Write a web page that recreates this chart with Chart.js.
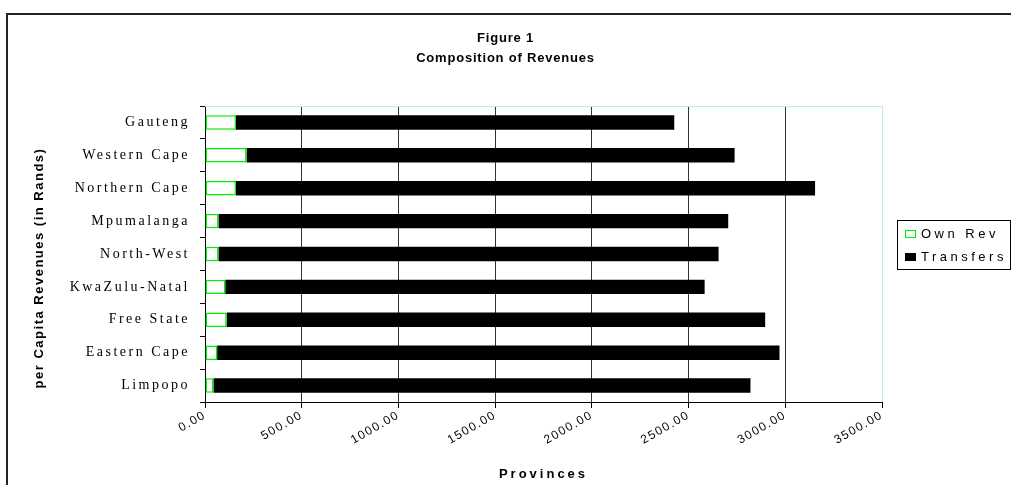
<!DOCTYPE html>
<html><head><meta charset="utf-8">
<script src="https://cdn.jsdelivr.net/npm/chart.js@4.4.1/dist/chart.umd.min.js"></script>
<style>html,body{margin:0;padding:0;background:#fff}#wrap{width:1011px;height:485px}</style>
</head><body><div id="wrap"><canvas id="c" width="1011" height="485"></canvas></div>
<script>
// ---- data ----
const provinces = ['Gauteng','Western Cape','Northern Cape','Mpumalanga','North-West','KwaZulu-Natal','Free State','Eastern Cape','Limpopo'];
const ownRev = [160, 215, 160, 70, 70, 105, 112, 63, 44];
const transfers = [2266, 2523, 2994, 2635, 2585, 2478, 2784, 2907, 2776];
const xTickValues = [0, 500, 1000, 1500, 2000, 2500, 3000, 3500];
const seriesNames = ['Own Rev', 'Transfers'];
const titleLines = ['Figure 1', 'Composition of Revenues'];
const xAxisTitle = 'Provinces';
const yAxisTitle = 'per Capita Revenues (in Rands)';

const SANS = "'Liberation Sans', Arial, sans-serif";
const SERIF = "'Liberation Serif', 'Times New Roman', serif";

function spaced(obj, method, spacing, dx, dy) {
  if (!obj || obj['__sp_' + method]) return;
  const orig = obj[method];
  obj[method] = function (...args) {
    const ctx = this.ctx;
    ctx.save();
    ctx.letterSpacing = spacing;
    if (dx || dy) ctx.translate(dx || 0, dy || 0);
    const r = orig.apply(this, args);
    ctx.restore();
    return r;
  };
  obj['__sp_' + method] = true;
}

const decor = {
  id: 'decor',
  beforeDraw(chart) {
    const ctx = chart.ctx;
    ctx.save();
    ctx.fillStyle = '#fff';
    ctx.fillRect(0, 0, chart.width, chart.height);
    ctx.restore();
    // title centred over the full canvas width
    const tb = chart.titleBlock;
    if (tb) { tb.left = 0; tb.right = chart.width; tb.width = chart.width; }
    spaced(tb, 'draw', '0.8px');
    spaced(chart.scales.x, 'drawTitle', '3px');
    spaced(chart.scales.x, 'drawLabels', '1.5px');
    spaced(chart.scales.y, 'drawLabels', '2.5px');
    spaced(chart.scales.y, 'drawTitle', '1.5px', 0, 14);
  },
  afterDraw(chart) {
    const ctx = chart.ctx;
    const a = chart.chartArea;
    ctx.save();
    // outer frame
    ctx.strokeStyle = '#222';
    ctx.lineWidth = 2;
    ctx.beginPath();
    ctx.moveTo(7, chart.height);
    ctx.lineTo(7, 14);
    ctx.lineTo(chart.width, 14);
    ctx.stroke();
    // plot area top/right border
    ctx.strokeStyle = '#b4eeee';
    ctx.lineWidth = 1;
    ctx.beginPath();
    ctx.moveTo(a.left, a.top + 0.5);
    ctx.lineTo(a.right + 0.5, a.top + 0.5);
    ctx.lineTo(a.right + 0.5, a.bottom);
    ctx.stroke();
    // legend
    const lx = 897, ly = 220, lw = 113, lh = 49;
    ctx.strokeStyle = '#000';
    ctx.lineWidth = 1;
    ctx.strokeRect(lx + 0.5, ly + 0.5, lw, lh);
    ctx.font = '13px ' + SANS;
    ctx.letterSpacing = '3.5px';
    ctx.textBaseline = 'middle';
    ctx.textAlign = 'left';
    chart.data.datasets.forEach((ds, i) => {
      const cy = ly + 14 + i * 23;
      ctx.fillStyle = ds.backgroundColor;
      ctx.fillRect(905, cy - 4, 11, 8);
      ctx.strokeStyle = ds.borderColor;
      ctx.strokeRect(905.5, cy - 3.5, 10, 7);
      ctx.fillStyle = '#000';
      ctx.fillText(ds.label, 921, cy);
    });
    ctx.restore();
  }
};

new Chart(document.getElementById('c'), {
  type: 'bar',
  data: {
    labels: provinces,
    datasets: [
      { label: seriesNames[0], data: ownRev, backgroundColor: '#ffffff', borderColor: '#00ee00', borderWidth: 1.5, borderSkipped: false },
      { label: seriesNames[1], data: transfers, backgroundColor: '#000000', borderColor: '#000000', borderWidth: 0 }
    ]
  },
  options: {
    indexAxis: 'y',
    responsive: false,
    animation: false,
    devicePixelRatio: 1,
    categoryPercentage: 1,
    barPercentage: 0.44,
    layout: { padding: { left: 0, right: 129, top: 0, bottom: 0 } },
    plugins: {
      legend: { display: false },
      tooltip: { enabled: false },
      title: {
        display: true,
        text: titleLines,
        color: '#000',
        font: { family: SANS, size: 13, weight: 'bold', lineHeight: '20px' },
        padding: { top: 28, bottom: 38 }
      }
    },
    scales: {
      x: {
        type: 'linear',
        stacked: true,
        position: 'bottom',
        min: xTickValues[0],
        max: xTickValues[xTickValues.length - 1],
        afterBuildTicks: (s) => { s.ticks = xTickValues.map(v => ({ value: v })); },
        afterFit: (s) => { s.height = 83; },
        ticks: {
          callback: (v) => Number(v).toFixed(2),
          minRotation: 30, maxRotation: 30,
          color: '#000',
          font: { family: SANS, size: 12 },
          padding: 0
        },
        grid: {
          color: (c) => (c.tick && c.tick.value === 3500) ? '#b4eeee' : '#333',
          tickColor: '#000',
          tickLength: 6,
          lineWidth: 1
        },
        border: { color: '#000', width: 1 },
        title: {
          display: true, text: xAxisTitle, color: '#000',
          font: { family: SANS, size: 13, weight: 'bold' },
          padding: { top: 0, bottom: 3 }
        }
      },
      y: {
        type: 'category',
        stacked: true,
        position: 'left',
        afterFit: (s) => { s.width = 205; },
        ticks: { color: '#000', font: { family: SERIF, size: 14 }, padding: 10 },
        grid: { offset: true, drawOnChartArea: false, tickLength: 5, color: '#000' },
        border: { color: '#000', width: 1 },
        title: {
          display: true, text: yAxisTitle, color: '#000',
          font: { family: SANS, size: 13, weight: 'bold' },
          padding: { top: 32 }
        }
      }
    }
  },
  plugins: [decor]
});
</script>
</body></html>
